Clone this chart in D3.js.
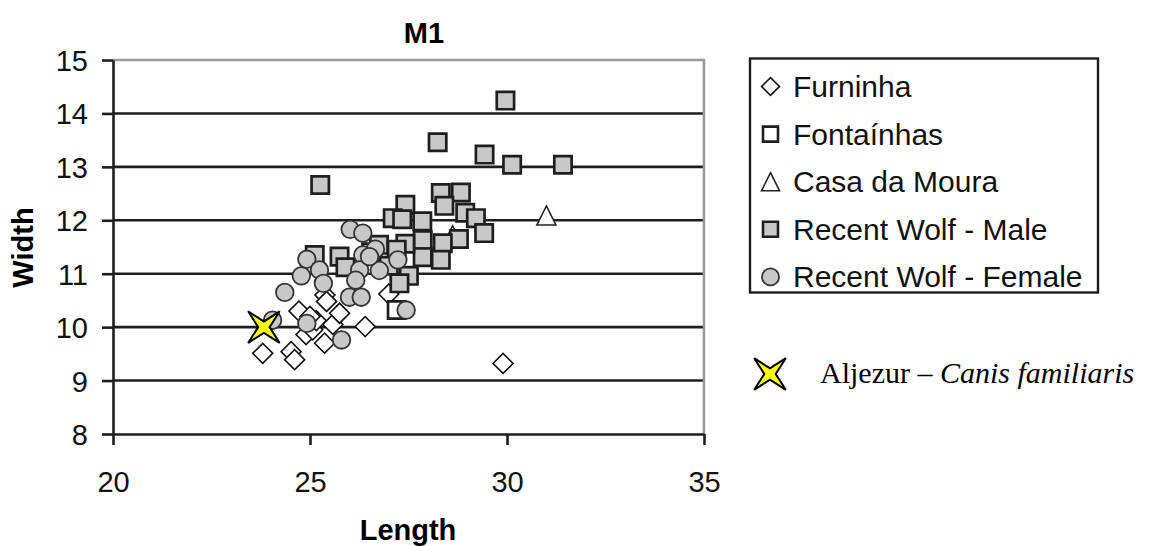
<!DOCTYPE html>
<html><head><meta charset="utf-8">
<script src="https://cdn.jsdelivr.net/npm/d3@7"></script>
<style>body{margin:0;background:#fff} svg{display:block}</style>
</head><body><svg id="c" width="1157" height="546"></svg>
<script>
// ---- data ----
const title = "M1";
const xLabel = "Length";
const yLabel = "Width";
const xTicks = [20, 25, 30, 35];
const yTicks = [8, 9, 10, 11, 12, 13, 14, 15];
const seriesNames = ["Furninha", "Fontaínhas", "Casa da Moura", "Recent Wolf - Male", "Recent Wolf - Female"];

// [length, width]
const furninha = [
  [23.80, 9.51], [24.52, 9.54], [24.61, 9.39], [24.72, 10.30], [24.90, 9.86],
  [25.07, 9.95], [25.16, 10.12], [25.00, 10.20], [25.38, 10.60], [25.42, 10.48],
  [25.37, 9.70], [25.58, 10.05], [25.75, 10.26], [26.40, 10.01], [29.90, 9.32],
  [27.00, 10.62]
];
const fontainhas = [
  [27.20, 10.32]
];
const casaDaMoura = [
  [31.00, 12.09], [28.62, 11.72]
];
const wolfMale = [
  [29.96, 14.24], [28.24, 13.46], [29.43, 13.23], [30.13, 13.04], [31.42, 13.04],
  [25.26, 12.66], [28.32, 12.51], [28.83, 12.52], [28.41, 12.27], [27.42, 12.29],
  [28.94, 12.14], [29.21, 12.04], [29.42, 11.76], [27.10, 12.04], [27.34, 12.02],
  [27.85, 11.98], [27.86, 11.63], [28.78, 11.65], [28.37, 11.57], [28.32, 11.26],
  [27.86, 11.31], [27.42, 11.56], [27.51, 10.96], [27.27, 10.82], [25.12, 11.35],
  [25.75, 11.32], [25.90, 11.12], [26.75, 11.54], [27.20, 11.45], [27.00, 11.15],
  [26.55, 11.40]
];
const wolfFemale = [
  [24.05, 10.13], [24.36, 10.65], [24.78, 10.96], [24.92, 11.27], [25.24, 11.07],
  [25.34, 10.82], [24.92, 10.07], [25.80, 9.76], [26.00, 10.56], [26.30, 10.56],
  [26.02, 11.83], [26.34, 11.76], [26.34, 11.35], [26.66, 11.46], [26.26, 11.07],
  [26.76, 11.06], [26.16, 10.88], [27.23, 11.26], [27.44, 10.32], [26.51, 11.32]
];
const aljezur = [[23.83, 10.00]];
const aljezurLabel = "Aljezur – ";
const aljezurSpecies = "Canis familiaris";

// ---- drawing ----
const W = 1157, H = 546;
const svg = d3.select("#c");
svg.append("rect").attr("width", W).attr("height", H).attr("fill", "#fff");
const SANS = "'Liberation Sans', Arial, Helvetica, sans-serif";
const SERIF = "'Liberation Serif', 'Times New Roman', serif";
const DARK = "#1e1e1e";

const x = d3.scaleLinear().domain([20, 35]).range([113, 704]);
const y = d3.scaleLinear().domain([8, 15]).range([434, 60]);

// custom symbol types
const symTriangle = { draw(ctx, size) { const s = Math.sqrt(size);
  ctx.moveTo(0, -s / 2); ctx.lineTo(s / 2, s / 2); ctx.lineTo(-s / 2, s / 2); ctx.closePath(); } };
const symStar4 = { draw(ctx, size) { const r = Math.sqrt(size) / 2, k = r * 0.36;
  ctx.moveTo(-r, -r); ctx.lineTo(0, -k); ctx.lineTo(r, -r); ctx.lineTo(k, 0);
  ctx.lineTo(r, r); ctx.lineTo(0, k); ctx.lineTo(-r, r); ctx.lineTo(-k, 0); ctx.closePath(); } };

const styles = {
  furninha:  { type: d3.symbolSquare, size: 200, rot: 45, fill: "#fff", stroke: "#111", sw: 1.6 },
  fontainhas:{ type: d3.symbolSquare, size: 300, rot: 0, fill: "#fff", stroke: DARK, sw: 2.7 },
  casa:      { type: symTriangle, size: 361, rot: 0, fill: "#fff", stroke: "#222", sw: 1.6 },
  male:      { type: d3.symbolSquare, size: 300, rot: 0, fill: "#c8c8c8", stroke: DARK, sw: 2.7 },
  female:    { type: d3.symbolCircle, size: 243, rot: 0, fill: "#c8c8c8", stroke: "#333", sw: 1.8 },
  star:      { type: symStar4, size: 1000, rot: 0, fill: "#ffff00", stroke: "#000", sw: 2 }
};
const legendStyles = {
  furninha:  { ...styles.furninha, size: 160 },
  fontainhas:{ ...styles.fontainhas, size: 225, sw: 2.6 },
  casa:      { ...styles.casa, size: 324 },
  male:      { ...styles.male, size: 225, sw: 2.6 },
  female:    { ...styles.female, size: 230 }
};

// gridlines
svg.append("g").selectAll("line")
  .data(yTicks.filter(v => v > 8 && v < 15)).join("line")
  .attr("x1", x(20)).attr("x2", x(35))
  .attr("y1", d => y(d)).attr("y2", d => y(d))
  .attr("stroke", DARK).attr("stroke-width", 2.6);

// top & right border (gray)
svg.append("path")
  .attr("d", `M${x(20)},${y(15)}H${x(35)}V${y(8)}`)
  .attr("fill", "none").attr("stroke", "#999").attr("stroke-width", 2.6);

// axes
const gy = svg.append("g").attr("transform", `translate(${x(20)},0)`)
  .call(d3.axisLeft(y).tickValues(yTicks).tickSize(11).tickSizeOuter(0).tickPadding(14).tickFormat(d3.format("d")));
const gx = svg.append("g").attr("transform", `translate(0,${y(8)})`)
  .call(d3.axisBottom(x).tickValues(xTicks).tickSize(11).tickSizeOuter(0).tickPadding(26).tickFormat(d3.format("d")));
[gx, gy].forEach(g => {
  g.select(".domain").attr("stroke", DARK).attr("stroke-width", 2.6);
  g.selectAll(".tick line").attr("stroke", DARK).attr("stroke-width", 2.6);
  g.selectAll(".tick text").attr("font-family", SANS).attr("font-size", 29).attr("fill", "#111");
});
gy.selectAll(".tick text").attr("dy", "0.36em");

// points
function drawSeries(data, st) {
  const gen = d3.symbol().type(st.type).size(st.size);
  svg.append("g").selectAll("path").data(data).join("path")
    .attr("d", gen)
    .attr("transform", d => `translate(${x(d[0])},${y(d[1])}) rotate(${st.rot})`)
    .attr("fill", st.fill).attr("stroke", st.stroke).attr("stroke-width", st.sw)
    .attr("stroke-linejoin", "miter");
}
drawSeries(furninha, styles.furninha);
drawSeries(fontainhas, styles.fontainhas);
drawSeries(casaDaMoura, styles.casa);
drawSeries(wolfMale, styles.male);
drawSeries(wolfFemale, styles.female);
drawSeries(aljezur, styles.star);

// title and axis titles
svg.append("text").attr("x", 424).attr("y", 43).attr("text-anchor", "middle")
  .attr("font-family", SANS).attr("font-weight", "bold").attr("font-size", 29).attr("fill", "#000").text(title);
svg.append("text").attr("x", 408).attr("y", 540).attr("text-anchor", "middle")
  .attr("font-family", SANS).attr("font-weight", "bold").attr("font-size", 29).attr("fill", "#000").text(xLabel);
svg.append("text").attr("transform", "translate(33,247.5) rotate(-90)").attr("text-anchor", "middle")
  .attr("font-family", SANS).attr("font-weight", "bold").attr("font-size", 29).attr("fill", "#000").text(yLabel);

// legend
const lg = svg.append("g");
lg.append("rect").attr("x", 750).attr("y", 58.5).attr("width", 348).attr("height", 234)
  .attr("fill", "#fff").attr("stroke", DARK).attr("stroke-width", 2.4);
const legKeys = ["furninha", "fontainhas", "casa", "male", "female"];
const legItems = lg.selectAll("g.item").data(seriesNames).join("g").attr("class", "item")
  .attr("transform", (d, i) => `translate(0,${97 + i * 47.6})`);
legItems.append("path")
  .attr("d", (d, i) => d3.symbol().type(legendStyles[legKeys[i]].type).size(legendStyles[legKeys[i]].size)())
  .attr("transform", (d, i) => `translate(770.5,-10.5) rotate(${legendStyles[legKeys[i]].rot})`)
  .attr("fill", (d, i) => legendStyles[legKeys[i]].fill)
  .attr("stroke", (d, i) => legendStyles[legKeys[i]].stroke)
  .attr("stroke-width", (d, i) => legendStyles[legKeys[i]].sw);
legItems.append("text").attr("x", 793).attr("y", 0)
  .attr("font-family", SANS).attr("font-size", 30).attr("fill", "#111").text(d => d);

// Aljezur note
svg.append("path").attr("d", d3.symbol().type(symStar4).size(styles.star.size)())
  .attr("transform", "translate(770,374)")
  .attr("fill", styles.star.fill).attr("stroke", styles.star.stroke).attr("stroke-width", styles.star.sw);
const note = svg.append("text").attr("x", 820).attr("y", 383)
  .attr("font-family", SERIF).attr("font-size", 30).attr("fill", "#000");
note.append("tspan").text(aljezurLabel);
note.append("tspan").attr("font-style", "italic").text(aljezurSpecies);
</script>
</body></html>
